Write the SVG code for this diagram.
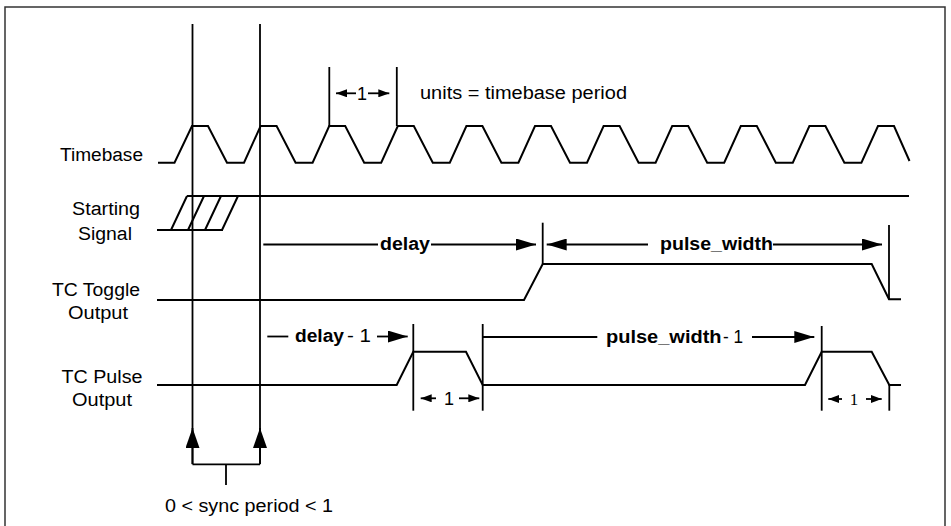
<svg xmlns="http://www.w3.org/2000/svg" width="951" height="526" viewBox="0 0 951 526">
<defs>
<style>
.w{fill:none;stroke:#000;stroke-width:2;stroke-linejoin:miter}
.v{fill:none;stroke:#000;stroke-width:1.8}
.t{font-family:"Liberation Sans",Arial,sans-serif;font-size:18px;fill:#000}
.b{font-weight:bold}
.m{text-anchor:middle}
.s{font-family:"Liberation Serif","Times New Roman",serif;font-size:17px;fill:#000}
</style>
<marker id="ah" viewBox="0 0 20 12" refX="20" refY="6" markerWidth="20" markerHeight="12" markerUnits="userSpaceOnUse" orient="auto"><path d="M0,0L20,6L0,12Z" fill="#000"/></marker>
<marker id="as" viewBox="0 0 11 8" refX="11" refY="4" markerWidth="11" markerHeight="8" markerUnits="userSpaceOnUse" orient="auto"><path d="M0,0L11,4L0,8Z" fill="#000"/></marker>
<marker id="au" viewBox="0 0 20 14" refX="20" refY="7" markerWidth="20" markerHeight="14" markerUnits="userSpaceOnUse" orient="auto"><path d="M0,0L20,7L0,14Z" fill="#000"/></marker>
</defs>
<rect x="0" y="0" width="951" height="526" fill="#fff"/>
<path d="M5,526V7H945V526" fill="none" stroke="#333" stroke-width="1.5"/>

<g id="labels">
<text class="t" x="143" y="161" text-anchor="end" textLength="83" lengthAdjust="spacingAndGlyphs">Timebase</text>
<text class="t m" x="106" y="215" textLength="68" lengthAdjust="spacingAndGlyphs">Starting</text>
<text class="t m" x="105" y="240" textLength="54" lengthAdjust="spacingAndGlyphs">Signal</text>
<text class="t m" x="96" y="296" textLength="88" lengthAdjust="spacingAndGlyphs">TC Toggle</text>
<text class="t m" x="98" y="319" textLength="60" lengthAdjust="spacingAndGlyphs">Output</text>
<text class="t m" x="102" y="383" textLength="81" lengthAdjust="spacingAndGlyphs">TC Pulse</text>
<text class="t m" x="102" y="406" textLength="60" lengthAdjust="spacingAndGlyphs">Output</text>
</g>

<g id="timebase">
<path class="w" d="M158,162.7H174.5L192,126H208L227,162.7H244L260.6,126H276.6L295.6,162.7H312.6L329.2,126H345.2L364.2,162.7H381.2L397.8,126H413.8L432.8,162.7H449.8L466.4,126H482.4L501.4,162.7H518.4L535,126H551L570,162.7H587L603.6,126H619.6L638.6,162.7H655.6L672.2,126H688.2L707.2,162.7H724.2L740.8,126H756.8L775.8,162.7H792.8L809.4,126H825.4L844.4,162.7H861.4L878,126H894L909.5,161"/>
</g>

<g id="starting-signal">
<path class="w" d="M157,230H223M187,196H909M171,230L187,196M188,230L204,196M205,230L221,196M222,230L238,196"/>
</g>

<g id="toggle">
<path class="w" d="M157,300H524L542.7,264H871.7L889,299.3H901" stroke-width="2.3"/>
</g>

<g id="pulse">
<path class="w" d="M157,385H396.7L413.3,351.7H466L482.7,385H805L821.7,351.7H871.7L889.3,385H901"/>
</g>

<g id="connectors">
<line class="v" x1="192.5" y1="24" x2="192.5" y2="464.3"/>
<line class="v" x1="260" y1="24" x2="260" y2="464.3"/>
<path class="v" d="M192.5,464.3H260M226,464.3V485"/>
<line class="v" x1="192.5" y1="464" x2="192.5" y2="428" marker-end="url(#au)"/>
<line class="v" x1="260" y1="464" x2="260" y2="428" marker-end="url(#au)"/>
<line class="v" x1="329.3" y1="67" x2="329.3" y2="126"/>
<line class="v" x1="396.8" y1="67" x2="396.8" y2="126"/>
<line class="v" x1="356" y1="93.3" x2="336" y2="93.3" marker-end="url(#as)"/>
<line class="v" x1="368" y1="93.3" x2="389.3" y2="93.3" marker-end="url(#as)"/>
<line class="v" x1="542.7" y1="222.7" x2="542.7" y2="264"/>
<line class="v" x1="889" y1="225" x2="889" y2="299.3"/>
<line class="v" x1="263.3" y1="244.5" x2="378" y2="244.5"/>
<line class="v" x1="431" y1="244.5" x2="536" y2="244.5" marker-end="url(#ah)"/>
<line class="v" x1="648" y1="244.5" x2="546.7" y2="244.5" marker-end="url(#ah)"/>
<line class="v" x1="773" y1="244.5" x2="882" y2="244.5" marker-end="url(#ah)"/>
<line class="v" x1="413.3" y1="324" x2="413.3" y2="410.7"/>
<line class="v" x1="482.7" y1="324" x2="482.7" y2="410.7"/>
<line class="v" x1="821.7" y1="326" x2="821.7" y2="410.7"/>
<line class="v" x1="889.3" y1="385" x2="889.3" y2="410.7"/>
<line class="v" x1="267.3" y1="336.5" x2="288.3" y2="336.5"/>
<line class="v" x1="377" y1="336.5" x2="407.7" y2="336.5" marker-end="url(#ah)"/>
<line class="v" x1="483" y1="337" x2="597.3" y2="337"/>
<line class="v" x1="752" y1="337" x2="814.3" y2="337" marker-end="url(#ah)"/>
<line class="v" x1="436" y1="398.3" x2="420.7" y2="398.3" marker-end="url(#as)"/>
<line class="v" x1="459" y1="398.3" x2="479.3" y2="398.3" marker-end="url(#as)"/>
<line class="v" x1="842" y1="399" x2="828.3" y2="399" marker-end="url(#as)"/>
<line class="v" x1="866" y1="399" x2="881.7" y2="399" marker-end="url(#as)"/>
</g>

<g id="annotations">
<text class="t m" x="362" y="99.5">1</text>
<text class="t" x="420" y="98.5" textLength="207" lengthAdjust="spacingAndGlyphs">units = timebase period</text>
<text class="t b" x="380" y="249.5" textLength="50" lengthAdjust="spacingAndGlyphs">delay</text>
<text class="t b" x="660" y="249.5" textLength="113" lengthAdjust="spacingAndGlyphs">pulse_width</text>
<text class="t b" x="295" y="342" textLength="49" lengthAdjust="spacingAndGlyphs">delay</text>
<text class="t" x="347" y="342" textLength="24" lengthAdjust="spacingAndGlyphs">- 1</text>
<text class="t b" x="606" y="342.5" textLength="115.6" lengthAdjust="spacingAndGlyphs">pulse_width</text>
<text class="t" x="723" y="342.5" textLength="20" lengthAdjust="spacingAndGlyphs">- 1</text>
<text class="t m" x="449" y="404.5">1</text>
<text class="s m" x="854" y="404.5">1</text>
<text class="t" x="165" y="511.5" textLength="168" lengthAdjust="spacingAndGlyphs">0 &lt; sync period &lt; 1</text>
</g>
</svg>
